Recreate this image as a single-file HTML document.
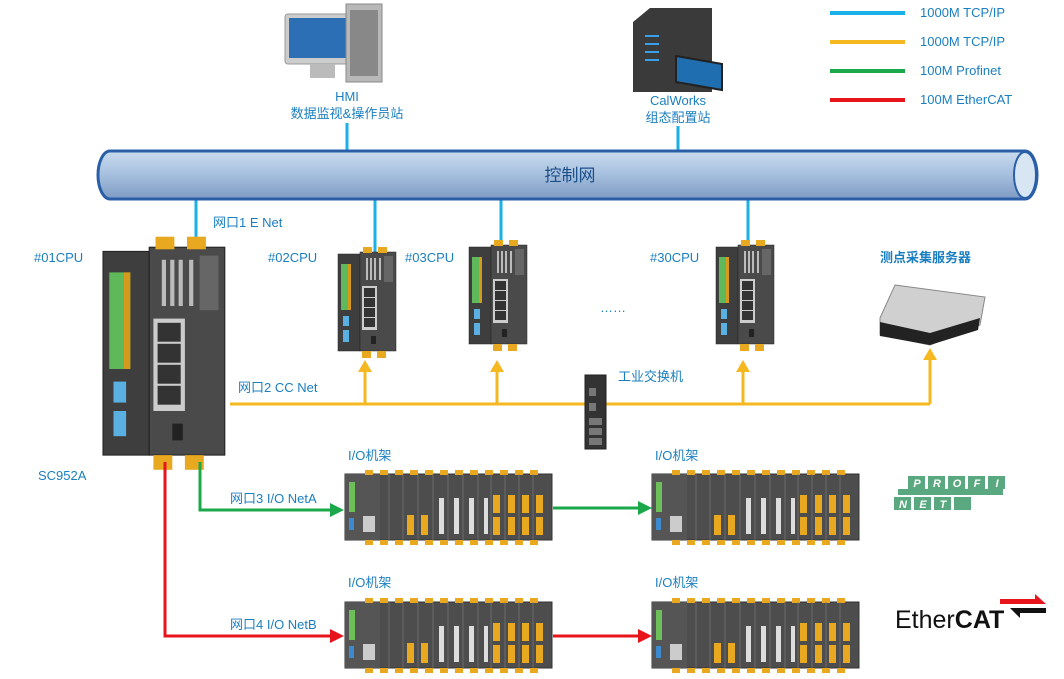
<!DOCTYPE html>
<html><head><meta charset="utf-8"><style>
html,body{margin:0;padding:0;background:#fff;}
svg{display:block;font-family:"Liberation Sans","Noto Sans CJK SC",sans-serif;}
.t{fill:#1a7fc0;font-size:13px;}
</style></head><body>
<svg width="1064" height="679" viewBox="0 0 1064 679" xmlns="http://www.w3.org/2000/svg">
<defs>
<linearGradient id="pipe" x1="0" y1="0" x2="0" y2="1">
<stop offset="0" stop-color="#c9dcef"/><stop offset="0.45" stop-color="#a9c2e0"/><stop offset="1" stop-color="#7e9bc4"/>
</linearGradient>
<g id="cpu">
<rect x="0" y="4" width="22" height="97" fill="#3e3e3e" stroke="#222" stroke-width="0.5"/>
<rect x="3" y="14" width="10" height="46" fill="#5fb85a"/>
<rect x="10" y="14" width="3" height="46" fill="#d59a1c"/>
<rect x="22" y="2" width="36" height="99" fill="#4a4a4a" stroke="#222" stroke-width="0.5"/>
<rect x="28" y="8" width="2" height="22" fill="#bbb"/><rect x="32" y="8" width="2" height="22" fill="#bbb"/><rect x="36" y="8" width="2" height="22" fill="#bbb"/><rect x="41" y="8" width="2" height="22" fill="#bbb"/>
<rect x="46" y="6" width="9" height="26" fill="#666"/>
<rect x="24" y="36" width="15" height="44" fill="#ccc"/>
<rect x="26" y="38" width="11" height="9" fill="#333"/><rect x="26" y="48" width="11" height="9" fill="#333"/><rect x="26" y="58" width="11" height="9" fill="#333"/><rect x="26" y="68" width="11" height="9" fill="#333"/>
<rect x="5" y="66" width="6" height="10" fill="#5ab0e0"/><rect x="5" y="80" width="6" height="12" fill="#5ab0e0"/>
<rect x="33" y="86" width="5" height="8" fill="#222"/>
<rect x="25" y="-3" width="9" height="6" fill="#e8a820"/><rect x="40" y="-3" width="9" height="6" fill="#e8a820"/>
<rect x="24" y="101" width="9" height="7" fill="#e8a820"/><rect x="39" y="101" width="9" height="7" fill="#e8a820"/>
</g>
<g id="rack">
<rect x="0" y="4" width="207" height="66" fill="#4d4d4d" stroke="#333"/>
<rect x="0" y="4" width="35" height="66" fill="#555"/>
<rect x="4" y="12" width="6" height="30" fill="#6dbf5a"/>
<rect x="18" y="46" width="12" height="16" fill="#ccc"/>
<rect x="4" y="48" width="5" height="12" fill="#3d8ad0"/>
<g fill="#e8a820">
<rect x="20" y="0" width="8" height="5"/><rect x="35" y="0" width="8" height="5"/><rect x="50" y="0" width="8" height="5"/><rect x="65" y="0" width="8" height="5"/><rect x="80" y="0" width="8" height="5"/><rect x="95" y="0" width="8" height="5"/><rect x="110" y="0" width="8" height="5"/><rect x="125" y="0" width="8" height="5"/><rect x="140" y="0" width="8" height="5"/><rect x="155" y="0" width="8" height="5"/><rect x="170" y="0" width="8" height="5"/><rect x="185" y="0" width="8" height="5"/>
<rect x="20" y="70" width="8" height="5"/><rect x="35" y="70" width="8" height="5"/><rect x="50" y="70" width="8" height="5"/><rect x="65" y="70" width="8" height="5"/><rect x="80" y="70" width="8" height="5"/><rect x="95" y="70" width="8" height="5"/><rect x="110" y="70" width="8" height="5"/><rect x="125" y="70" width="8" height="5"/><rect x="140" y="70" width="8" height="5"/><rect x="155" y="70" width="8" height="5"/><rect x="170" y="70" width="8" height="5"/><rect x="185" y="70" width="8" height="5"/>
<rect x="62" y="45" width="7" height="20"/><rect x="76" y="45" width="7" height="20"/>
<rect x="148" y="25" width="7" height="18"/><rect x="148" y="47" width="7" height="18"/>
<rect x="163" y="25" width="7" height="18"/><rect x="163" y="47" width="7" height="18"/>
<rect x="177" y="25" width="7" height="18"/><rect x="177" y="47" width="7" height="18"/>
<rect x="191" y="25" width="7" height="18"/><rect x="191" y="47" width="7" height="18"/>
</g>
<g fill="#ddd"><rect x="94" y="28" width="5" height="36"/><rect x="109" y="28" width="5" height="36"/><rect x="124" y="28" width="5" height="36"/><rect x="139" y="28" width="4" height="36"/></g>
<g stroke="#777" stroke-width="0.7"><line x1="44" y1="4" x2="44" y2="70"/><line x1="58" y1="4" x2="58" y2="70"/><line x1="73" y1="4" x2="73" y2="70"/><line x1="88" y1="4" x2="88" y2="70"/><line x1="103" y1="4" x2="103" y2="70"/><line x1="118" y1="4" x2="118" y2="70"/><line x1="133" y1="4" x2="133" y2="70"/><line x1="146" y1="4" x2="146" y2="70"/><line x1="160" y1="4" x2="160" y2="70"/><line x1="174" y1="4" x2="174" y2="70"/><line x1="188" y1="4" x2="188" y2="70"/></g>
</g>
</defs>

<g stroke-width="4">
<line x1="830" y1="13" x2="905" y2="13" stroke="#1ab0e8"/>
<line x1="830" y1="42" x2="905" y2="42" stroke="#f5b820"/>
<line x1="830" y1="71" x2="905" y2="71" stroke="#1aa84a"/>
<line x1="830" y1="100" x2="905" y2="100" stroke="#e8141c"/>
</g>
<text x="920" y="17" class="t" font-size="12">1000M TCP/IP</text><text x="920" y="46" class="t" font-size="12">1000M TCP/IP</text><text x="920" y="75" class="t" font-size="12">100M Profinet</text><text x="920" y="104" class="t" font-size="12">100M EtherCAT</text>

<rect x="285" y="14" width="80" height="50" rx="3" fill="#ccc" stroke="#999"/>
<rect x="289" y="18" width="72" height="40" fill="#2d6fb4"/>
<rect x="310" y="64" width="25" height="14" fill="#bbb"/>
<rect x="346" y="4" width="36" height="78" fill="#b8b8b8" stroke="#888"/>
<rect x="350" y="10" width="28" height="66" fill="#888"/>
<text x="347" y="101" text-anchor="middle" class="t" font-size="12">HMI</text>
<text x="347" y="118" text-anchor="middle" class="t" font-size="12">数据监视&amp;操作员站</text>
<path d="M633 22 L650 8 L712 8 L712 92 L633 92 Z" fill="#3a3a3a"/>
<g fill="#3a9ee8"><rect x="645" y="35" width="14" height="2"/><rect x="645" y="43" width="14" height="2"/><rect x="645" y="51" width="14" height="2"/><rect x="645" y="59" width="14" height="2"/></g>
<path d="M676 56 L722 64 L722 90 L676 82 Z" fill="#1f6fb0" stroke="#222" stroke-width="2"/>
<text x="678" y="105" text-anchor="middle" class="t" font-size="12">CalWorks</text>
<text x="678" y="122" text-anchor="middle" class="t" font-size="12">组态配置站</text>

<g stroke="#1ab0e8" stroke-width="3">
<line x1="347" y1="123" x2="347" y2="152"/><line x1="678" y1="126" x2="678" y2="152"/>
<line x1="196" y1="198" x2="196" y2="242"/><line x1="375" y1="198" x2="375" y2="254"/>
<line x1="501" y1="198" x2="501" y2="244"/><line x1="748" y1="198" x2="748" y2="244"/>
</g>
<path d="M110 151 L1025 151 A12 24 0 0 1 1025 199 L110 199 A12 24 0 0 1 110 151 Z" fill="url(#pipe)" stroke="#2a5fa8" stroke-width="3"/>
<ellipse cx="1025" cy="175" rx="11" ry="23" fill="#d8e6f4" stroke="#2a5fa8" stroke-width="2"/>
<text x="570" y="181" text-anchor="middle" fill="#1a4f8a" font-size="17">控制网</text>

<g stroke="#f5b820" stroke-width="3" fill="none">
<line x1="230" y1="404" x2="930" y2="404"/>
<line x1="365" y1="404" x2="365" y2="370"/><line x1="497" y1="404" x2="497" y2="370"/>
<line x1="743" y1="404" x2="743" y2="370"/><line x1="930" y1="404" x2="930" y2="358"/>
</g>
<g fill="#f5b820">
<path d="M358 372 L365 360 L372 372Z"/><path d="M490 372 L497 360 L504 372Z"/>
<path d="M736 372 L743 360 L750 372Z"/><path d="M923 360 L930 348 L937 360Z"/>
</g>
<rect x="585" y="375" width="21" height="74" fill="#333" stroke="#222"/>
<rect x="589" y="388" width="7" height="8" fill="#777"/><rect x="589" y="403" width="7" height="8" fill="#777"/>
<rect x="589" y="418" width="13" height="7" fill="#777"/><rect x="589" y="428" width="13" height="7" fill="#777"/><rect x="589" y="438" width="13" height="7" fill="#777"/>
<text x="618" y="381" class="t" font-size="12">工业交换机</text>

<use href="#cpu" transform="translate(103,243) scale(2.1)"/>
<use href="#cpu" x="338" y="250"/>
<use href="#cpu" x="469" y="243"/>
<use href="#cpu" x="716" y="243"/>
<text x="34" y="262" class="t" font-size="15">#01CPU</text>
<text x="268" y="262" class="t" font-size="15">#02CPU</text>
<text x="405" y="262" class="t" font-size="15">#03CPU</text>
<text x="650" y="262" class="t" font-size="15">#30CPU</text>
<text x="600" y="312" class="t" font-size="13">……</text>
<text x="38" y="480" class="t" font-size="17">SC952A</text>
<text x="213" y="227" class="t" font-size="12">网口1 E Net</text>
<text x="238" y="392" class="t" font-size="12">网口2 CC Net</text>
<text x="880" y="262" class="t" font-size="12" font-weight="bold">测点采集服务器</text>
<path d="M895 285 L985 297 L980 325 L930 345 L880 335 L880 318 Z" fill="#d0d0d0" stroke="#888"/>
<path d="M880 322 L930 333 L980 318 L978 330 L930 345 L880 336 Z" fill="#222"/>

<g stroke="#1aa84a" stroke-width="3" fill="none">
<polyline points="200,462 200,510 330,510"/><line x1="553" y1="508" x2="640" y2="508"/>
</g>
<g fill="#1aa84a"><path d="M330 503 L344 510 L330 517Z"/><path d="M638 501 L652 508 L638 515Z"/></g>
<g stroke="#e8141c" stroke-width="3" fill="none">
<polyline points="165,462 165,636 330,636"/><line x1="553" y1="636" x2="640" y2="636"/>
</g>
<g fill="#e8141c"><path d="M330 629 L344 636 L330 643Z"/><path d="M638 629 L652 636 L638 643Z"/></g>
<text x="230" y="503" class="t" font-size="12">网口3 I/O NetA</text>
<text x="230" y="629" class="t" font-size="12">网口4 I/O NetB</text>

<use href="#rack" x="345" y="470"/>
<use href="#rack" x="652" y="470"/>
<use href="#rack" x="345" y="598"/>
<use href="#rack" x="652" y="598"/>
<text x="348" y="460" class="t">I/O机架</text><text x="655" y="460" class="t">I/O机架</text><text x="348" y="587" class="t">I/O机架</text><text x="655" y="587" class="t">I/O机架</text>

<g fill="#5aa880">
<rect x="908" y="476" width="17" height="13"/><rect x="928" y="476" width="17" height="13"/><rect x="948" y="476" width="17" height="13"/><rect x="968" y="476" width="17" height="13"/><rect x="988" y="476" width="17" height="13"/>
<rect x="898" y="489" width="105" height="6"/>
<rect x="894" y="497" width="17" height="13"/><rect x="914" y="497" width="17" height="13"/><rect x="934" y="497" width="17" height="13"/><rect x="954" y="497" width="17" height="13"/>
</g>
<g fill="#fff" font-size="11" font-weight="bold" font-style="italic" text-anchor="middle">
<text x="917" y="487">P</text><text x="937" y="487">R</text><text x="957" y="487">O</text><text x="977" y="487">F</text><text x="997" y="487">I</text>
<text x="903" y="508">N</text><text x="923" y="508">E</text><text x="943" y="508">T</text>
</g>
<text x="895" y="628" font-size="25" fill="#111">Ether<tspan font-weight="bold">CAT</tspan></text>
<path d="M1000 599 L1035 599 L1035 594 L1046 604 L1000 604Z" fill="#e8141c"/>
<path d="M1010 608 L1046 608 L1046 613 L1020 613 L1020 618Z" fill="#111"/>
</svg>
</body></html>
